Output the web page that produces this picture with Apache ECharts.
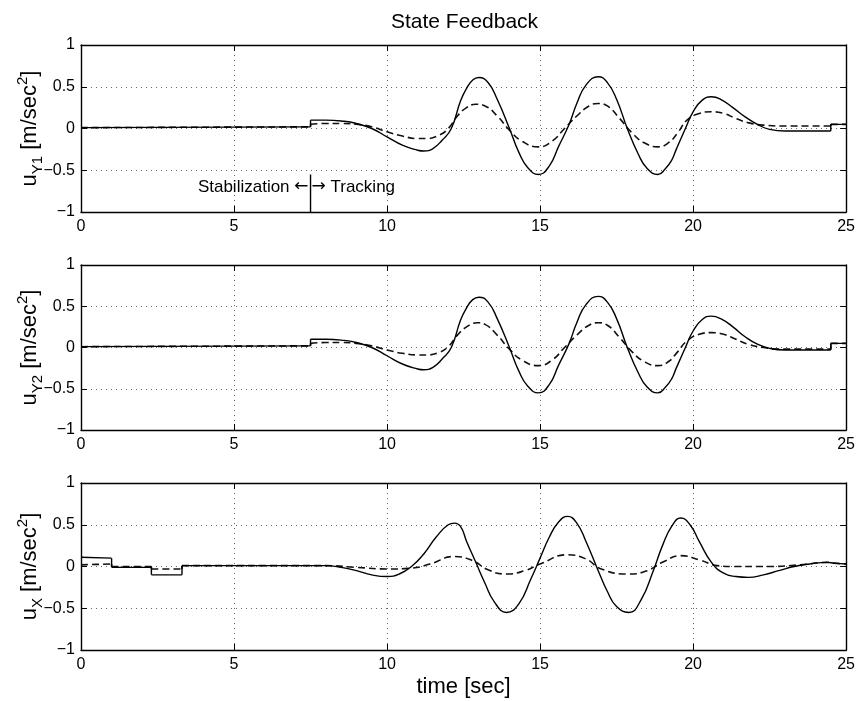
<!DOCTYPE html>
<html>
<head>
<meta charset="utf-8">
<script src="https://cdn.jsdelivr.net/npm/echarts@6/dist/echarts.min.js"></script>
<style>html,body{margin:0;padding:0;background:#fff}#c{width:858px;height:701px}</style>
</head>
<body>
<div id="c"></div>
<script>
// ---- data ----
var titleText = 'State Feedback';
var xTicks = [0, 5, 10, 15, 20, 25];
var yTicks = [-1, -0.5, 0, 0.5, 1];
var panelLabels = ['Y1', 'Y2', 'X'];
var xAxisLabel = 'time [sec]';
var annotLeft = 'Stabilization';
var annotRight = 'Tracking';
var switchTime = 7.5;
var switchLine = [[7.5, -1], [7.5, -0.55]];

var y1Solid = [[0,0.01],[7.5,0.02],[7.5,0.1],[8.0,0.1],[8.5,0.09],[9.0,0.06],[9.5,0.0],[10.0,-0.1],[10.5,-0.2],[11.0,-0.26],[11.2,-0.27],[11.5,-0.24],[11.8,-0.14],[12.1,0.0],[12.4,0.33],[12.6,0.48],[12.8,0.58],[13.0,0.61],[13.3,0.55],[13.6,0.35],[14.0,0.0],[14.3,-0.28],[14.6,-0.47],[14.95,-0.55],[15.3,-0.45],[15.6,-0.22],[15.95,0.05],[16.2,0.3],[16.5,0.52],[16.9,0.62],[17.2,0.55],[17.5,0.35],[17.85,0.0],[18.2,-0.3],[18.5,-0.48],[18.85,-0.55],[19.1,-0.48],[19.3,-0.38],[19.45,-0.25],[19.75,0.0],[20.0,0.2],[20.3,0.34],[20.6,0.38],[20.9,0.35],[21.3,0.25],[21.7,0.14],[22.1,0.05],[22.5,-0.01],[23.0,-0.03],[23.5,-0.03],[24.5,-0.03],[24.5,0.05],[25,0.05]];
var y1Dashed = [[0,0.01],[7.5,0.02],[7.5,0.05],[8.0,0.06],[8.5,0.06],[9.0,0.05],[9.5,0.02],[10.0,-0.04],[10.5,-0.09],[11.0,-0.12],[11.3,-0.12],[11.7,-0.08],[12.0,0.0],[12.3,0.15],[12.6,0.25],[12.9,0.29],[13.2,0.27],[13.6,0.15],[14.0,-0.02],[14.4,-0.15],[14.95,-0.22],[15.4,-0.15],[15.8,0.0],[16.2,0.15],[16.6,0.27],[16.9,0.3],[17.2,0.27],[17.6,0.12],[18.0,-0.05],[18.4,-0.17],[18.85,-0.22],[19.2,-0.17],[19.5,-0.05],[19.8,0.1],[20.2,0.18],[20.6,0.2],[21.0,0.18],[21.4,0.12],[21.8,0.07],[22.3,0.04],[23.0,0.03],[24.5,0.03],[24.5,0.05],[25,0.05]];

var y2Solid = [[0,0.01],[7.5,0.02],[7.5,0.1],[8.0,0.1],[8.5,0.09],[9.0,0.06],[9.5,0.0],[10.0,-0.1],[10.5,-0.2],[11.0,-0.26],[11.2,-0.27],[11.5,-0.24],[11.8,-0.14],[12.1,0.0],[12.4,0.33],[12.6,0.48],[12.8,0.58],[13.0,0.61],[13.3,0.55],[13.6,0.35],[14.0,0.0],[14.3,-0.28],[14.6,-0.47],[14.95,-0.55],[15.3,-0.45],[15.6,-0.22],[15.95,0.05],[16.2,0.3],[16.5,0.52],[16.9,0.62],[17.2,0.55],[17.5,0.35],[17.85,0.0],[18.2,-0.3],[18.5,-0.48],[18.85,-0.55],[19.1,-0.48],[19.3,-0.38],[19.45,-0.25],[19.75,0.0],[20.0,0.2],[20.3,0.34],[20.6,0.38],[20.9,0.35],[21.3,0.25],[21.7,0.13],[22.1,0.04],[22.5,-0.01],[23.0,-0.03],[23.5,-0.03],[24.5,-0.03],[24.5,0.05],[25,0.05]];
var y2Dashed = [[0,0.01],[7.5,0.02],[7.5,0.05],[8.0,0.06],[8.5,0.06],[9.0,0.05],[9.5,0.02],[10.0,-0.03],[10.5,-0.07],[11.0,-0.09],[11.3,-0.09],[11.7,-0.06],[12.0,0.01],[12.3,0.15],[12.6,0.25],[12.95,0.3],[13.2,0.28],[13.6,0.15],[14.0,-0.02],[14.4,-0.15],[14.95,-0.22],[15.4,-0.15],[15.8,0.0],[16.2,0.15],[16.6,0.27],[16.9,0.3],[17.2,0.27],[17.6,0.12],[18.0,-0.05],[18.4,-0.17],[18.85,-0.22],[19.2,-0.17],[19.5,-0.05],[19.8,0.08],[20.2,0.16],[20.6,0.18],[21.0,0.16],[21.4,0.1],[21.8,0.04],[22.3,0.0],[22.8,-0.02],[24.5,-0.02],[24.5,0.05],[25,0.05]];

var xSolid = [[0,0.11],[1.0,0.1],[1.0,-0.01],[2.3,-0.01],[2.3,-0.1],[3.3,-0.1],[3.3,0.01],[8.0,0.01],[8.5,-0.01],[9.0,-0.05],[9.5,-0.1],[10.0,-0.12],[10.4,-0.09],[10.8,0.0],[11.2,0.15],[11.6,0.35],[12.0,0.5],[12.2,0.52],[12.4,0.48],[12.6,0.3],[12.9,0.05],[13.2,-0.2],[13.5,-0.42],[13.9,-0.55],[14.3,-0.45],[14.7,-0.15],[15.0,0.1],[15.3,0.35],[15.6,0.53],[15.9,0.6],[16.2,0.52],[16.5,0.3],[16.9,-0.05],[17.2,-0.3],[17.5,-0.48],[17.9,-0.55],[18.3,-0.4],[18.7,-0.05],[19.0,0.25],[19.3,0.48],[19.6,0.58],[19.9,0.5],[20.2,0.3],[20.6,0.05],[21.0,-0.08],[21.4,-0.12],[21.8,-0.13],[22.3,-0.1],[22.8,-0.05],[23.3,0.0],[23.8,0.03],[24.4,0.05],[24.6,0.04],[25,0.03]];
var xDashed = [[0,0.02],[1.0,0.03],[1.0,0.0],[2.3,0.0],[2.3,-0.03],[3.3,-0.03],[3.3,0.01],[8.0,0.01],[9.0,-0.01],[10.0,-0.03],[10.8,-0.02],[11.4,0.03],[12.2,0.12],[12.8,0.07],[13.3,-0.04],[13.9,-0.09],[14.5,-0.05],[15.0,0.03],[15.9,0.14],[16.5,0.09],[17.0,-0.03],[17.9,-0.09],[18.5,-0.05],[19.0,0.05],[19.6,0.13],[20.2,0.08],[20.8,0.01],[21.3,0.0],[22.5,0.0],[23.5,0.02],[24.4,0.05],[24.6,0.04],[25,0.03]];

var panels = [
  {solid: y1Solid, dashed: y1Dashed},
  {solid: y2Solid, dashed: y2Dashed},
  {solid: xSolid, dashed: xDashed}
];

// ---- layout ----
var FONT = "'Liberation Sans', Arial, sans-serif";
var L = 81, W = 766;
var tops = [45, 265, 483], heights = [167, 165, 167];

var grids = [], xAxes = [], yAxes = [], series = [];
function fmt(v) { return String(v).replace('-', '\u2212'); }

// split a curve into smooth pieces (breaking at vertical jumps) and the jumps themselves
function split(arr) {
  var smooth = [], jumps = [];
  for (var k = 0; k < arr.length; k++) {
    if (k > 0 && arr[k][0] === arr[k - 1][0]) {
      smooth.push(null);
      jumps.push(arr[k - 1], arr[k], null);
    }
    smooth.push(arr[k]);
  }
  return {smooth: smooth, jumps: jumps};
}

var AX = {color: '#000', width: 1.4};
panels.forEach(function (p, i) {
  grids.push({left: L, width: W, top: tops[i], height: heights[i]});
  var common = {
    min: xTicks[0], max: xTicks[xTicks.length - 1], interval: 5, type: 'value', gridIndex: i
  };
  xAxes.push(Object.assign({}, common, {
    position: 'bottom',
    axisLine: {show: true, onZero: false, lineStyle: AX},
    axisTick: {show: true, inside: true, length: 6, lineStyle: {color: '#000'}},
    axisLabel: {show: true, color: '#000', fontSize: 16, fontFamily: FONT, margin: 7, formatter: fmt},
    splitLine: {show: true, lineStyle: {color: '#666', type: [1, 4], width: 1}},
    name: i === 2 ? xAxisLabel : '',
    nameLocation: 'middle', nameGap: 26, nameMoveOverlap: false,
    nameTextStyle: {color: '#000', fontSize: 22, fontFamily: FONT, verticalAlign: 'top'}
  }));
  xAxes.push(Object.assign({}, common, {
    position: 'top',
    axisLine: {show: true, onZero: false, lineStyle: AX},
    axisTick: {show: true, inside: true, length: 6, lineStyle: {color: '#000'}},
    axisLabel: {show: false}, splitLine: {show: false}
  }));
  var ycommon = {type: 'value', gridIndex: i, min: yTicks[0], max: yTicks[yTicks.length - 1], interval: 0.5};
  yAxes.push(Object.assign({}, ycommon, {
    position: 'left',
    axisLine: {show: true, onZero: false, lineStyle: AX},
    axisTick: {show: true, inside: true, length: 6, lineStyle: {color: '#000'}},
    axisLabel: {show: true, color: '#000', fontSize: 16, fontFamily: FONT, margin: 6, formatter: fmt},
    splitLine: {show: true, lineStyle: {color: '#666', type: [1, 4], width: 1}},
    name: '{b|u}{sub|' + panelLabels[i] + '}{b| [m/sec}{sup|2}{b|]}',
    nameLocation: 'middle', nameRotate: 90, nameGap: 36, nameMoveOverlap: false,
    nameTextStyle: {
      color: '#000', fontFamily: FONT,
      rich: {
        b: {fontSize: 22, fontFamily: FONT, color: '#000', lineHeight: 30, verticalAlign: 'middle'},
        sub: {fontSize: 15, fontFamily: FONT, color: '#000', lineHeight: 15, verticalAlign: 'bottom'},
        sup: {fontSize: 15, fontFamily: FONT, color: '#000', lineHeight: 15, verticalAlign: 'top'}
      }
    }
  }));
  yAxes.push(Object.assign({}, ycommon, {
    position: 'right',
    axisLine: {show: true, onZero: false, lineStyle: AX},
    axisTick: {show: true, inside: true, length: 6, lineStyle: {color: '#000'}},
    axisLabel: {show: false}, splitLine: {show: false}
  }));
  [['dashed', {color: '#111', width: 1.6, type: [7, 4]}], ['solid', {color: '#000', width: 1.4}]].forEach(function (d) {
    var parts = split(p[d[0]]);
    series.push({
      type: 'line', xAxisIndex: 2 * i, yAxisIndex: 2 * i, data: parts.smooth,
      showSymbol: false, smooth: 0.5, connectNulls: false, animation: false,
      lineStyle: d[1]
    });
    series.push({
      type: 'line', xAxisIndex: 2 * i, yAxisIndex: 2 * i, data: parts.jumps,
      showSymbol: false, smooth: false, connectNulls: false, animation: false,
      lineStyle: Object.assign({}, d[1], {type: 'solid'})
    });
  });
});

series.push({
  type: 'line', xAxisIndex: 0, yAxisIndex: 0, data: switchLine,
  showSymbol: false, animation: false, lineStyle: {color: '#000', width: 1.4}
});

var chart = echarts.init(document.getElementById('c'), null, {renderer: 'canvas'});
chart.setOption({
  animation: false,
  backgroundColor: '#fff',
  title: {
    text: titleText, left: 386, top: 7,
    textStyle: {color: '#000', fontSize: 21, fontWeight: 'normal', fontFamily: FONT}
  },
  grid: grids, xAxis: xAxes, yAxis: yAxes, series: series
});

var pt = chart.convertToPixel({xAxisIndex: 0, yAxisIndex: 0}, [switchTime, -0.7]);
var ARW = {fontSize: 17, fontFamily: "'DejaVu Sans', sans-serif", fill: '#000'};
chart.setOption({
  graphic: [
    {type: 'text', x: pt[0] - 2, y: pt[1], style: {text: annotLeft + ' {a|\u2190}', align: 'right', verticalAlign: 'middle', fontSize: 17, fontFamily: FONT, fill: '#000', rich: {a: ARW}}},
    {type: 'text', x: pt[0] + 1, y: pt[1], style: {text: '{a|\u2192} ' + annotRight, align: 'left', verticalAlign: 'middle', fontSize: 17, fontFamily: FONT, fill: '#000', rich: {a: ARW}}}
  ]
});
</script>
</body>
</html>
